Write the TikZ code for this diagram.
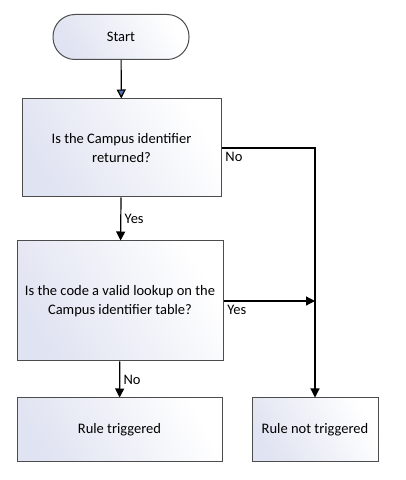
\documentclass[tikz,border=0pt]{standalone}
\usepackage{fontspec}
\setmainfont{Carlito}
\usetikzlibrary{arrows.meta}

\definecolor{boxfill}{RGB}{224,227,241}
\definecolor{tipblue}{RGB}{79,112,176}

\begin{document}
\begin{tikzpicture}[x=1pt, y=1pt, font=\fontsize{14.5}{18.5}\selectfont]
        \tikzstyle{proc}=[draw=black!70, line width=1pt, shading=axis, left color=boxfill, right color=white, shading angle=120, align=center, inner sep=0pt]
        \tikzstyle{flow}=[-{Triangle[length=9pt, width=9pt]}, line width=1.2pt]

        \useasboundingbox (0,0) rectangle (406,480);

        \node (start) [proc, rounded corners=22pt, minimum width=136pt, minimum height=45pt] at (121,443) {Start};
        \node (campus) [proc, minimum width=199pt, minimum height=98pt] at (121.5,332) {Is the Campus identifier\\returned?};
        \node (lookup) [proc, minimum width=206pt, minimum height=120pt] at (120,179) {Is the code a valid lookup on the\\Campus identifier table?};
        \node (hit) [proc, minimum width=205pt, minimum height=64pt] at (119.5,50) {Rule triggered};
        \node (miss) [proc, minimum width=126pt, minimum height=64pt] at (315,50) {Rule not triggered};
        \coordinate (join) at (miss.north |- lookup.east);

        \draw[-{Triangle[length=9pt, width=9pt, fill=tipblue]}, line width=1.2pt] (start) -- (campus);
        \draw[flow] (campus) -- node [right] {Yes} (lookup);
        \draw[flow] (lookup) -- node [right] {No} (hit);
        \draw[flow] (campus.east) -| node [pos=0, below right] {No} (miss);
        \draw[flow] (lookup.east) -- node [pos=0, below right] {Yes} (join);

    \end{tikzpicture}
\end{document}
